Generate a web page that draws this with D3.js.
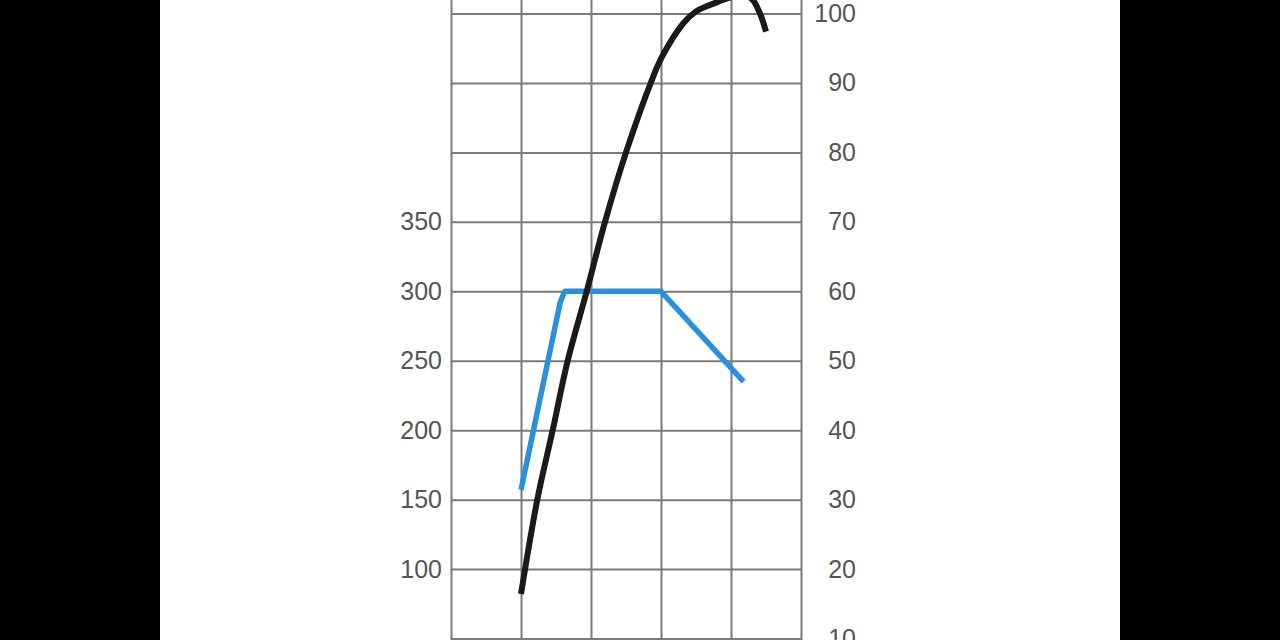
<!DOCTYPE html>
<html>
<head>
<meta charset="utf-8">
<script src="https://cdn.jsdelivr.net/npm/d3@7"></script>
<style>
  html, body { margin: 0; padding: 0; background: #000; overflow: hidden; }
  svg { display: block; }
  text { font-family: "Liberation Sans", Arial, sans-serif; }
</style>
</head>
<body>
<div id="chart"></div>
<script>
// engine speed grid (rpm), torque (Nm, left) and power (kW, right)
const rpmTicks = [0, 1000, 2000, 3000, 4000, 5000];
const torqueTicks = [100, 150, 200, 250, 300, 350];
const powerTicks = [10, 20, 30, 40, 50, 60, 70, 80, 90, 100];
const gridPower = [0, 10, 20, 30, 40, 50, 60, 70, 80, 90, 100, 110];

const torqueRpm = [1000, 1560, 1625, 3000, 4180];
const torqueNm  = [157, 292, 300, 300, 235];

const powerRpm = [1000, 1233, 1453, 1667, 1939, 2200, 2500, 2880, 3000, 3319, 3500, 3795, 3957, 4130, 4296, 4414, 4500];
const powerKw  = [16.4, 30, 40, 50, 60, 70, 80, 90.7, 93.5, 98.6, 100.3, 101.6, 102.2, 102.6, 102.1, 100, 97.4];

const W = 1280, H = 640;

const svg = d3.select("#chart").append("svg")
    .attr("width", W)
    .attr("height", H);

// white page between the black bars
svg.append("rect")
    .attr("x", 160).attr("y", 0)
    .attr("width", 960).attr("height", H)
    .attr("fill", "#fff");

const x = d3.scaleLinear().domain([0, 5000]).range([451, 801]);
const yPower = d3.scaleLinear().domain([0, 100]).range([708, 13.5]);
const yTorque = d3.scaleLinear().domain([0, 500]).range([708, 13.5]);

// vertical grid
svg.append("g")
    .attr("transform", `translate(0,${H + 20})`)
    .call(d3.axisBottom(x).tickValues(rpmTicks).tickSize(-(H + 40)).tickFormat(""))
    .call(g => g.select(".domain").remove())
    .call(g => g.selectAll("line").attr("stroke", "#7a7a7a").attr("stroke-width", 2));

// horizontal grid
svg.append("g")
    .attr("transform", `translate(${x(0)},0)`)
    .call(d3.axisRight(yPower).tickValues(gridPower).tickSize(x(5000) - x(0)).tickFormat(""))
    .call(g => g.select(".domain").remove())
    .call(g => g.selectAll("line").attr("stroke", "#7a7a7a").attr("stroke-width", 2));

// left labels (Nm)
svg.append("g")
    .attr("transform", `translate(${x(0)},0)`)
    .call(d3.axisLeft(yTorque).tickValues(torqueTicks).tickSize(0).tickPadding(9))
    .call(g => g.select(".domain").remove())
    .call(g => g.selectAll("text")
        .attr("font-size", 25)
        .attr("fill", "#555")
        .attr("font-family", "Liberation Sans, Arial, sans-serif"));

// right labels (kW)
svg.append("g")
    .attr("transform", `translate(${x(5000)},0)`)
    .call(d3.axisRight(yPower).tickValues(powerTicks).tickSize(0))
    .call(g => g.select(".domain").remove())
    .call(g => g.selectAll("text")
        .attr("x", 55)
        .attr("text-anchor", "end")
        .attr("font-size", 25)
        .attr("fill", "#555")
        .attr("font-family", "Liberation Sans, Arial, sans-serif"));

// torque curve
const torqueLine = d3.line()
    .x((d, i) => x(torqueRpm[i]))
    .y(d => yTorque(d));

svg.append("path")
    .datum(torqueNm)
    .attr("d", torqueLine)
    .attr("fill", "none")
    .attr("stroke", "#2b90dc")
    .attr("stroke-width", 5.5)
    .attr("stroke-linejoin", "round");

// power curve
const powerLine = d3.line()
    .x((d, i) => x(powerRpm[i]))
    .y(d => yPower(d))
    .curve(d3.curveCatmullRom.alpha(0.5));

svg.append("path")
    .datum(powerKw)
    .attr("d", powerLine)
    .attr("fill", "none")
    .attr("stroke", "#1a1a1a")
    .attr("stroke-width", 6);
</script>
</body>
</html>
